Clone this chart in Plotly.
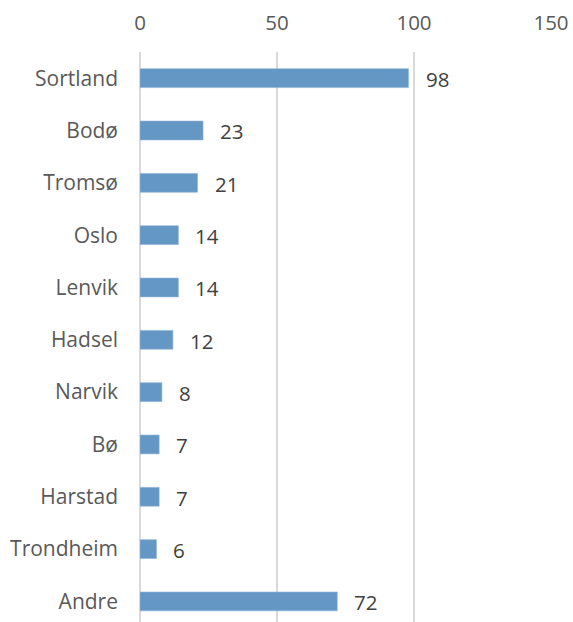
import plotly.graph_objects as go

# Municipality counts
places = ["Sortland", "Bodø", "Tromsø", "Oslo", "Lenvik", "Hadsel",
          "Narvik", "Bø", "Harstad", "Trondheim", "Andre"]
counts = [98, 23, 21, 14, 14, 12, 8, 7, 7, 6, 72]
x_ticks = [0, 50, 100, 150]

BAR = "#6497c4"
GRID = "#d9d9d9"
FONT = "Open Sans"

fig = go.Figure(
    go.Bar(
        x=counts,
        y=places,
        orientation="h",
        width=0.36,
        marker=dict(color=BAR, line=dict(color="#8fb4d8", width=0.6)),
        hoverinfo="x+y",
    )
)

# Value labels to the right of each bar
for p, v in zip(places, counts):
    fig.add_annotation(
        x=v, y=p, text=str(v), showarrow=False,
        xanchor="left", yanchor="middle", xshift=15, yshift=-1,
        font=dict(family=FONT, size=20.5, color="#404040"),
    )

fig.update_layout(
    width=573,
    height=622,
    margin=dict(l=140, r=22, t=52, b=0),
    paper_bgcolor="white",
    plot_bgcolor="white",
    showlegend=False,
    font=dict(family=FONT, size=21, color="#595959"),
    xaxis=dict(
        side="top",
        range=[0, 150],
        tickvals=x_ticks,
        showgrid=True,
        gridcolor=GRID,
        gridwidth=2,
        zeroline=True,
        zerolinecolor=GRID,
        zerolinewidth=2,
        showline=False,
        ticks="",
        ticklabelstandoff=17,
        tickfont=dict(family=FONT, size=20.5, color="#595959"),
        fixedrange=True,
    ),
    yaxis=dict(
        categoryorder="array",
        categoryarray=places,
        range=[10.393, -0.5],
        showgrid=False,
        zeroline=False,
        showline=False,
        ticks="",
        ticklabelstandoff=21,
        tickfont=dict(family=FONT, size=21, color="#595959"),
        fixedrange=True,
    ),
)

fig.write_html("out.html")
